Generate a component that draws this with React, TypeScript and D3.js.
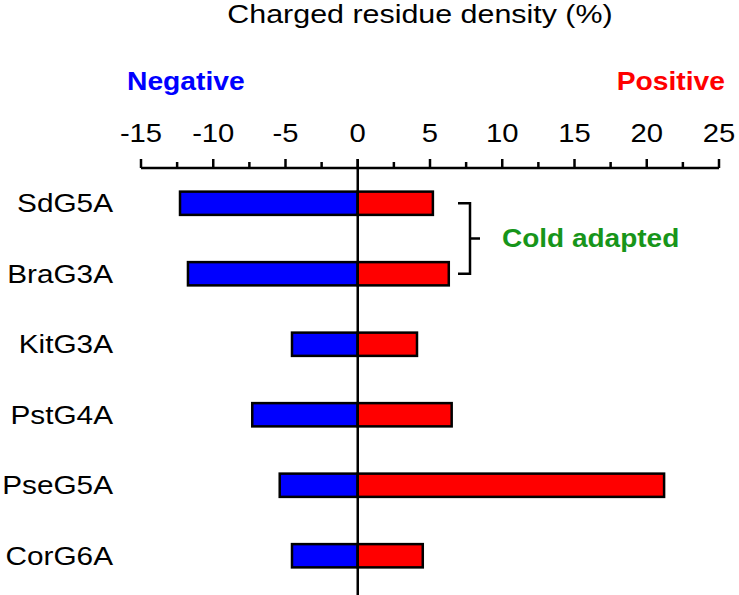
import React, { useEffect, useRef } from 'react';
import * as d3 from 'd3';

const categories = ['SdG5A', 'BraG3A', 'KitG3A', 'PstG4A', 'PseG5A', 'CorG6A'];
const negativeValues = [-12.3, -11.75, -4.55, -7.3, -5.4, -4.55];
const positiveValues = [5.2, 6.3, 4.1, 6.5, 21.2, 4.5];
const majorTicks = [-15, -10, -5, 0, 5, 10, 15, 20, 25];
const coldAdapted = ['SdG5A', 'BraG3A'];

const W = 739;
const H = 595;
const FONT = '"Liberation Sans", Arial, sans-serif';

const App: React.FC = () => {
  const ref = useRef<SVGSVGElement>(null);

  useEffect(() => {
    if (!ref.current) return;
    const svg = d3.select(ref.current);
    svg.selectAll('*').remove();

    const axisY = 168;
    const x = d3.scaleLinear().domain([-15, 25]).range([141, 719]);
    const y = d3.scaleBand()
      .domain(categories)
      .range([168, 591])
      .paddingInner(0.67)
      .paddingOuter(0.335);

    // stretched text helper
    const label = (tx: number, ty: number, s: string, opts: { size?: number; sx?: number; anchor?: string; weight?: string; fill?: string }) => {
      svg.append('text')
        .attr('transform', `translate(${tx},${ty}) scale(${opts.sx ?? 1.17},1)`)
        .attr('text-anchor', opts.anchor ?? 'middle')
        .style('font-family', FONT)
        .style('font-size', `${opts.size ?? 25}px`)
        .style('font-weight', opts.weight ?? 'normal')
        .style('fill', opts.fill ?? '#000')
        .text(s);
    };

    // title and side labels
    label(420, 23, 'Charged residue density (%)', { size: 26, sx: 1.17 });
    label(127, 90, 'Negative', { anchor: 'start', weight: 'bold', fill: '#0000ff', sx: 1.13 });
    label(725, 90, 'Positive', { anchor: 'end', weight: 'bold', fill: '#ff0000', sx: 1.13 });

    // top axis: ticks point up
    const axis = svg.append('g');
    axis.append('line')
      .attr('x1', x(-15)).attr('x2', x(25))
      .attr('y1', axisY).attr('y2', axisY)
      .attr('stroke', '#000').attr('stroke-width', 2.5);
    const minor = d3.range(-15, 25.01, 2.5);
    axis.selectAll('.tick')
      .data(minor)
      .enter().append('line')
      .attr('x1', d => x(d)).attr('x2', d => x(d))
      .attr('y1', axisY)
      .attr('y2', d => (d % 5 === 0 ? axisY - 9 : axisY - 6))
      .attr('stroke', '#000').attr('stroke-width', 2.5);
    majorTicks.forEach(t => label(x(t), 142, String(t), { sx: 1.17 }));

    // bars
    const bars = svg.append('g');
    categories.forEach((c, i) => {
      const top = y(c) || 0;
      const bw = y.bandwidth();
      bars.append('rect')
        .attr('x', x(negativeValues[i]))
        .attr('y', top)
        .attr('width', x(0) - x(negativeValues[i]))
        .attr('height', bw)
        .attr('fill', '#0000ff')
        .attr('stroke', '#000').attr('stroke-width', 2.5);
      bars.append('rect')
        .attr('x', x(0))
        .attr('y', top)
        .attr('width', x(positiveValues[i]) - x(0))
        .attr('height', bw)
        .attr('fill', '#ff0000')
        .attr('stroke', '#000').attr('stroke-width', 2.5);
      label(113, top + bw / 2 + 9, c, { anchor: 'end', sx: 1.19 });
    });

    // zero line
    svg.append('line')
      .attr('x1', x(0)).attr('x2', x(0))
      .attr('y1', axisY - 9).attr('y2', H)
      .attr('stroke', '#000').attr('stroke-width', 2.5);

    // cold adapted bracket
    const c0 = (y(coldAdapted[0]) || 0) + y.bandwidth() / 2;
    const c1 = (y(coldAdapted[1]) || 0) + y.bandwidth() / 2;
    const bx = 470;
    svg.append('path')
      .attr('d', `M${bx - 12},${c0} H${bx} V${c1} H${bx - 12} M${bx},${(c0 + c1) / 2} H${bx + 10}`)
      .attr('fill', 'none')
      .attr('stroke', '#000').attr('stroke-width', 2.5);
    label(502, 247, 'Cold adapted', { anchor: 'start', weight: 'bold', fill: '#17951a', sx: 1.12 });
  }, []);

  return (
    <svg
      ref={ref}
      width={W}
      height={H}
      style={{ position: 'absolute', left: 0, top: 0, background: '#fff' }}
    />
  );
};

export default App;
